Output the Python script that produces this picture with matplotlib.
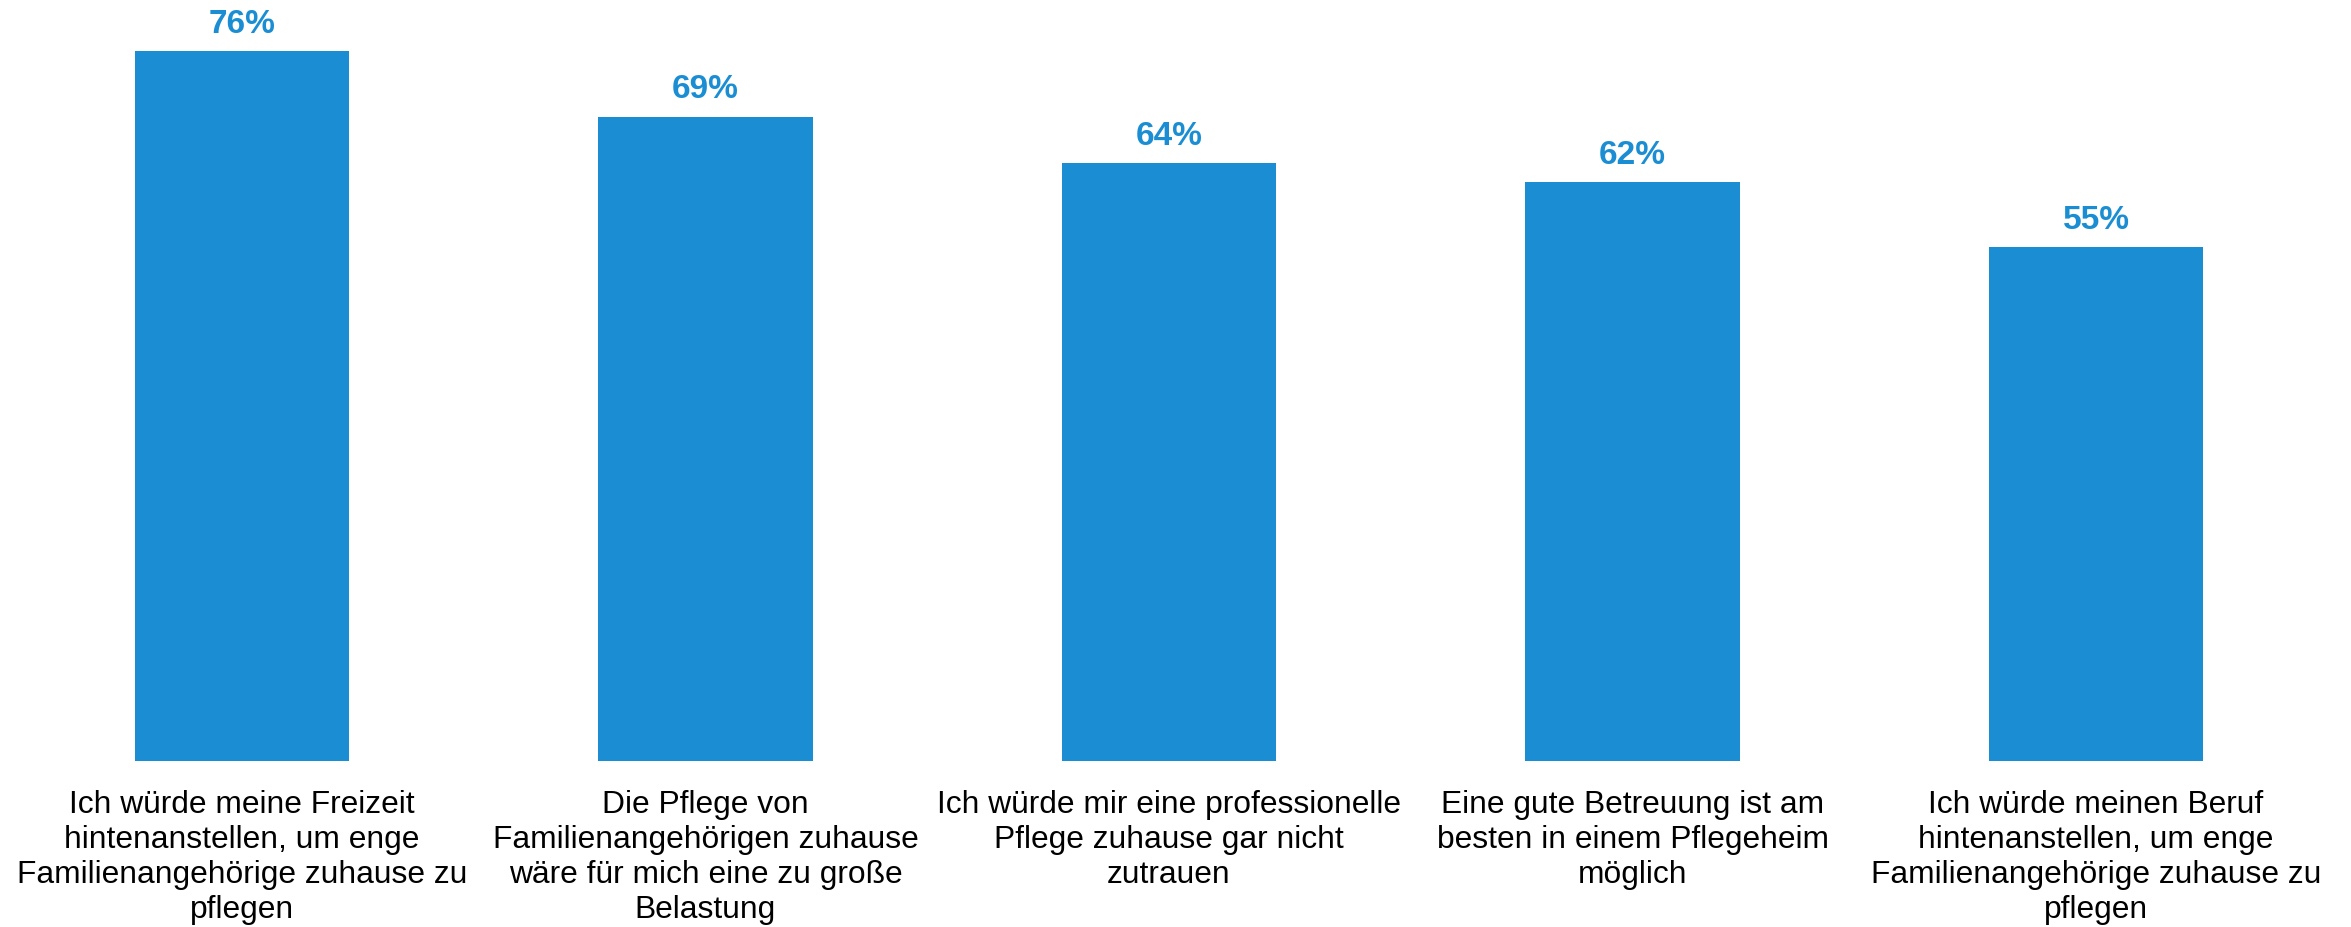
import matplotlib
matplotlib.use("Agg")
import matplotlib.pyplot as plt

categories = [
    "Ich würde meine Freizeit\nhintenanstellen, um enge\nFamilienangehörige zuhause zu\npflegen",
    "Die Pflege von\nFamilienangehörigen zuhause\nwäre für mich eine zu große\nBelastung",
    "Ich würde mir eine professionelle\nPflege zuhause gar nicht\nzutrauen",
    "Eine gute Betreuung ist am\nbesten in einem Pflegeheim\nmöglich",
    "Ich würde meinen Beruf\nhintenanstellen, um enge\nFamilienangehörige zuhause zu\npflegen",
]
values = [76, 69, 64, 62, 55]
value_labels = ["76%", "69%", "64%", "62%", "55%"]

BLUE = "#1B8ED3"
plt.rcParams["font.family"] = ["Liberation Sans", "DejaVu Sans"]

fig = plt.figure(figsize=(23.51, 9.28), dpi=100)
ax = fig.add_axes([0.0, 1 - 762 / 928, 1.0, 762 / 928])

x = list(range(len(values)))
bars = ax.bar(x, values, width=0.462, color=BLUE)

for xi, v, lab in zip(x, values, value_labels):
    ax.annotate(lab, (xi, v), xytext=(0, 9), textcoords="offset points",
                ha="center", va="bottom", fontsize=24, fontweight="bold",
                color=BLUE)

ax.set_xlim(-0.522, 4.550)
ax.set_ylim(0, 81.6)
ax.set_xticks(x)
ax.set_xticklabels(categories, fontsize=22.9, color="#000000",
                   linespacing=1.22)
ax.tick_params(axis="x", length=0, pad=20)
ax.set_yticks([])
for s in ax.spines.values():
    s.set_visible(False)

fig.savefig("out.png", dpi=100)
